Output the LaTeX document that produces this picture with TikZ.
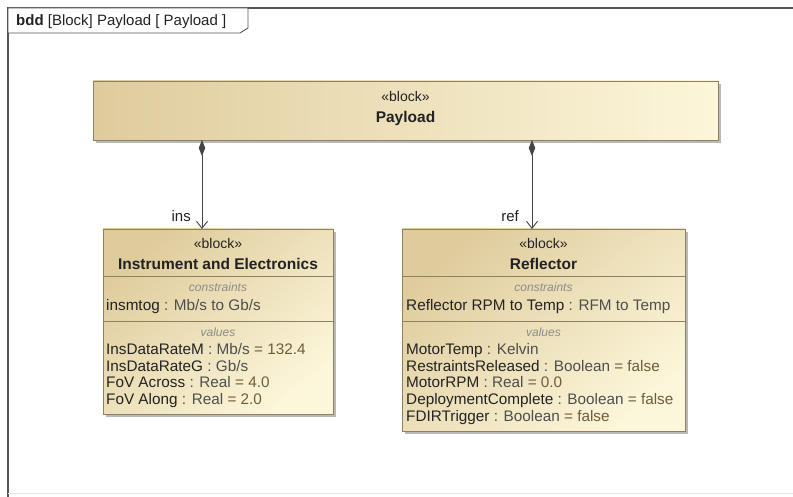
\documentclass[tikz,border=0pt]{standalone}
\usepackage{fontspec}
\setmainfont{Liberation Sans}
\usetikzlibrary{arrows.meta,shadows}

\definecolor{framec}{HTML}{555555}
\definecolor{edgec}{HTML}{8F8160}
\definecolor{tanA}{HTML}{DFCC9D}
\definecolor{tanB}{HTML}{FCF6DA}
\definecolor{namec}{HTML}{222222}
\definecolor{typec}{HTML}{4E4E4E}
\definecolor{valc}{HTML}{6F5C38}
\definecolor{secc}{HTML}{8C8C8C}
\definecolor{linkc}{HTML}{444444}

\begin{document}
\begin{tikzpicture}[x=1pt,y=-1pt,
  blockbox/.style={draw=edgec, line width=0.8pt, inner sep=0pt, outer sep=0pt,
    anchor=north west,
    drop shadow={shadow xshift=3pt, shadow yshift=-3pt, fill=black!50, opacity=0.55}},
  stereo/.style={font=\fontsize{14}{16}\selectfont, text=namec, inner sep=0pt, anchor=base},
  bname/.style={font=\fontsize{15.5}{17}\selectfont\bfseries, text=namec, inner sep=0pt, anchor=base},
  section/.style={font=\fontsize{12}{14}\selectfont\itshape, text=secc, inner sep=0pt, anchor=base},
  attr/.style={font=\fontsize{15.3}{17}\selectfont, text=namec, anchor=base west, inner sep=0pt},
  lbl/.style={font=\fontsize{15}{17}\selectfont, text=namec, anchor=base east, inner sep=0pt},
  sepline/.style={draw=edgec, line width=0.7pt},
  comp/.style={draw=linkc, line width=0.9pt,
    {Diamond[length=16pt,width=6.5pt]}-{Straight Barb[length=7pt,width=11pt]}}
]
\useasboundingbox (0,0) rectangle (793,497);

% diagram frame and its name tab
\draw[framec, line width=1.4pt] (8,497) -- (8,8) -- (793,8);
\draw[black!10, line width=0.8pt] (8,493) -- (793,493);
\draw[framec, line width=0.9pt, fill=white] (8,8) -- (248,8) -- (248,28) -- (240,33) -- (8,33) -- cycle;
\node[font=\fontsize{15}{17}\selectfont, text=namec, anchor=base west, inner sep=0pt] (title) at (16,26)
  {\textbf{bdd} [Block] Payload [ Payload ]};

% blocks
\node[blockbox, minimum width=625pt, minimum height=59pt, left color=tanA, right color=tanB] (payload) at (93,81) {};
\node[blockbox, minimum width=230pt, minimum height=185pt,
  top color=tanA, bottom color=tanB, shading angle=40] (ie) at (103,229) {};
\node[blockbox, minimum width=283pt, minimum height=202pt,
  top color=tanA, bottom color=tanB, shading angle=40] (refl) at (402,229) {};

% Payload
\node[stereo] (payst) at (405.5,102) {«block»};
\node[bname] (paynm) at (405.5,123) {Payload};

% Instrument and Electronics
\node[stereo] (iest) at (218,249) {«block»};
\node[bname] (ienm) at (218,270) {Instrument and Electronics};
\draw[sepline] (103,276) -- (333,276);
\node[section] (iecon) at (218,292) {constraints};
\node[attr] (iec1) at (106,310) {insmtog \textcolor{typec}{: Mb/s to Gb/s}};
\draw[sepline] (103,321) -- (333,321);
\node[section] (ieval) at (218,337) {values};
\node[attr] (iev1) at (106,354) {InsDataRateM \textcolor{typec}{: Mb/s} \textcolor{valc}{= 132.4}};
\node[attr] (iev2) at (106,371) {InsDataRateG \textcolor{typec}{: Gb/s}};
\node[attr] (iev3) at (106,387) {FoV Across \textcolor{typec}{: Real} \textcolor{valc}{= 4.0}};
\node[attr] (iev4) at (106,404) {FoV Along \textcolor{typec}{: Real} \textcolor{valc}{= 2.0}};

% Reflector
\node[stereo] (rfst) at (543.5,249) {«block»};
\node[bname] (rfnm) at (543.5,270) {Reflector};
\draw[sepline] (402,276) -- (685,276);
\node[section] (rfcon) at (543.5,292) {constraints};
\node[attr] (rfc1) at (406,310) {Reflector RPM to Temp \textcolor{typec}{: RFM to Temp}};
\draw[sepline] (402,321) -- (685,321);
\node[section] (rfval) at (543.5,337) {values};
\node[attr] (rfv1) at (406,354) {MotorTemp \textcolor{typec}{: Kelvin}};
\node[attr] (rfv2) at (406,371) {RestraintsReleased \textcolor{typec}{: Boolean} \textcolor{valc}{= false}};
\node[attr] (rfv3) at (406,387) {MotorRPM \textcolor{typec}{: Real} \textcolor{valc}{= 0.0}};
\node[attr] (rfv4) at (406,404) {DeploymentComplete \textcolor{typec}{: Boolean} \textcolor{valc}{= false}};
\node[attr] (rfv5) at (406,421) {FDIRTrigger \textcolor{typec}{: Boolean} \textcolor{valc}{= false}};

% composition connectors
\coordinate (insx) at (202,0);
\coordinate (refx) at (532,0);
\draw[comp] (payload.south -| insx) -- (ie.north -| insx);
\draw[comp] (payload.south -| refx) -- (refl.north -| refx);
\node[lbl] (inslbl) at (191,222) {ins};
\node[lbl] (reflbl) at (519,222) {ref};
\end{tikzpicture}
\end{document}
